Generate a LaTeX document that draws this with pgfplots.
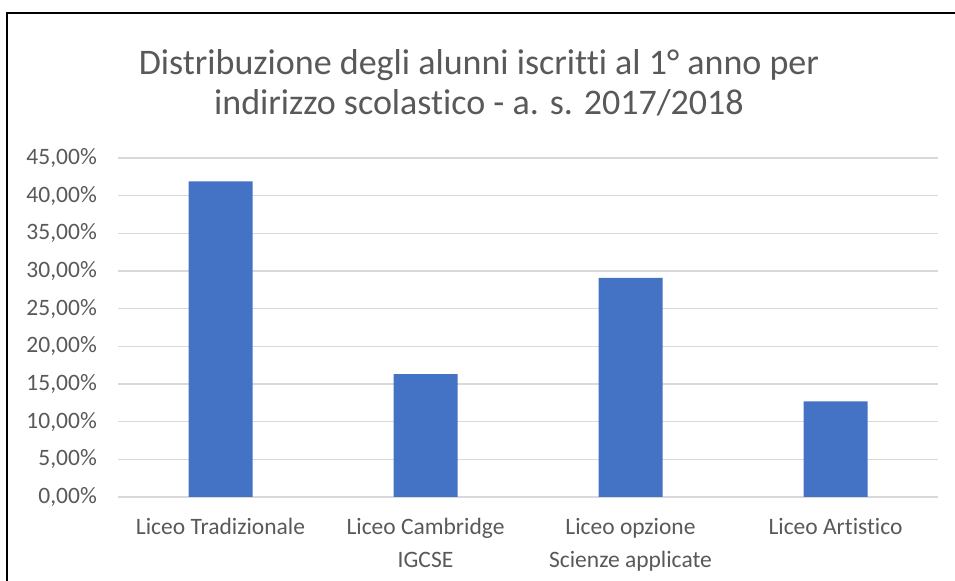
\documentclass[border=0pt]{standalone}
\usepackage{pgfplots}
\pgfplotsset{compat=1.18}
\usepackage{fontspec}
\setmainfont{Carlito}[Ligatures=NoCommon]
\definecolor{barblue}{HTML}{4472C4}
\definecolor{txtgray}{HTML}{595959}
\definecolor{gridgray}{HTML}{D9D9D9}
\begin{document}
\begin{tikzpicture}[x=1bp,y=1bp]
\useasboundingbox (0,0) rectangle (955,581);
\fill[white] (0,0) rectangle (955,581);
\draw[black, line width=2.6bp] (7,-5) -- (7,568) -- (960,568);
\node[text=txtgray, align=center, font=\fontsize{36bp}{40bp}\selectfont] at (479,498)
  {Distribuzione degli alunni iscritti al 1° anno per\\indirizzo scolastico - a. s. 2017/2018};
\begin{axis}[
  at={(118bp,84bp)}, anchor=south west,
  scale only axis, width=820bp, height=339bp,
  xmin=-0.5, xmax=3.5, ymin=0, ymax=45,
  ytick={0,5,...,45},
  yticklabels={0{,}00\%,5{,}00\%,10{,}00\%,15{,}00\%,20{,}00\%,25{,}00\%,30{,}00\%,35{,}00\%,40{,}00\%,45{,}00\%},
  xtick={0,1,2,3},
  xticklabels={Liceo Tradizionale,Liceo Cambridge\\IGCSE,Liceo opzione\\Scienze applicate,Liceo Artistico},
  axis line style={draw=none},
  major tick length=0pt,
  ymajorgrids, grid style={gridgray, line width=1.3bp},
  tick label style={text=txtgray, font=\fontsize{23.5bp}{33bp}\selectfont},
  yticklabel style={anchor=east, inner sep=0pt, xshift=-21bp},
  xticklabel style={anchor=north, align=center, inner sep=0pt, yshift=-21bp},
  clip=false,
]
\addplot[ybar, bar width=64bp, fill=barblue, draw=none] coordinates {(0,41.9) (1,16.3) (2,29.1) (3,12.7)};
\end{axis}
\end{tikzpicture}
\end{document}
